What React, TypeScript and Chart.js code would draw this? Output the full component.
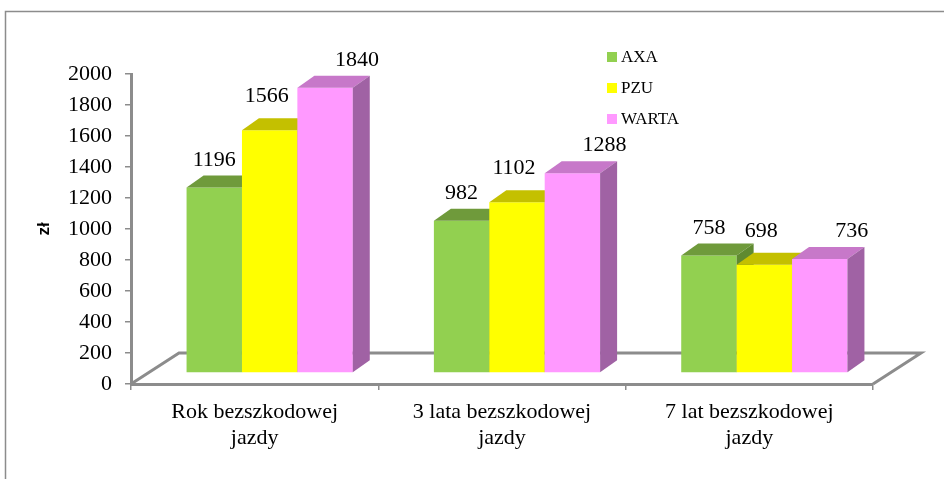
import React, { useEffect, useRef } from 'react';
import { Chart, registerables } from 'chart.js';

Chart.register(...registerables);

// ---- data ----
const categories: string[][] = [
  ['Rok bezszkodowej', 'jazdy'],
  ['3 lata bezszkodowej', 'jazdy'],
  ['7 lat bezszkodowej', 'jazdy'],
];
const seriesNames = ['AXA', 'PZU', 'WARTA'];
const axaValues = [1196, 982, 758];
const pzuValues = [1566, 1102, 698];
const wartaValues = [1840, 1288, 736];
const yMin = 0;
const yMax = 2000;
const yStep = 200;
const yAxisTitle = 'zł';

// ---- styles ----
const frontColors = ['#92D050', '#FFFF00', '#FF99FF'];
const topColors = ['#6F9A3B', '#C4C000', '#C778C9'];
const sideColors = ['#5F8A30', '#A8A400', '#A062A4'];
const labelDx = [0, -3, 32];
const labelRise = [22, 28, 22];

const SERIF = '"Liberation Serif", "Times New Roman", serif';
const SANS = '"Liberation Sans", Arial, sans-serif';
const AXIS_GREY = '#8c8c8c';

const SHIFT_X = 15;
const SHIFT_Y = -11;
const DEPTH_X = 17;
const DEPTH_Y = -12;
const FLOOR_X = 48;
const FLOOR_Y = -31;

const bar3dPlugin = {
  id: 'bar3d',
  beforeDraw(chart: any) {
    const { ctx, chartArea: a } = chart;
    ctx.save();
    // outer frame
    ctx.strokeStyle = AXIS_GREY;
    ctx.lineWidth = 1.5;
    ctx.beginPath();
    ctx.moveTo(5.5, chart.height + 10);
    ctx.lineTo(5.5, 11.5);
    ctx.lineTo(chart.width + 10, 11.5);
    ctx.stroke();
    // 3D floor
    ctx.lineWidth = 3;
    ctx.beginPath();
    ctx.moveTo(a.left, a.bottom);
    ctx.lineTo(a.left + FLOOR_X, a.bottom + FLOOR_Y);
    ctx.lineTo(a.right + FLOOR_X, a.bottom + FLOOR_Y);
    ctx.lineTo(a.right, a.bottom);
    ctx.stroke();
    ctx.restore();
  },
  // the library draws datasets last-to-first; we redraw them first-to-last below
  beforeDatasetDraw() {
    return false;
  },
  afterDatasetsDraw(chart: any) {
    const ctx = chart.ctx;
    const n = chart.data.datasets.length;
    for (let i = 0; i < n; i++) {
      const meta = chart.getDatasetMeta(i);
      ctx.save();
      ctx.translate(SHIFT_X, SHIFT_Y);
      meta.data.forEach((bar: any) => {
        bar.draw(ctx);
        const { x, y, base, width } = bar.getProps(['x', 'y', 'base', 'width'], true);
        const l = x - width / 2;
        const r = x + width / 2;
        ctx.fillStyle = topColors[i];
        ctx.beginPath();
        ctx.moveTo(l, y);
        ctx.lineTo(l + DEPTH_X, y + DEPTH_Y);
        ctx.lineTo(r + DEPTH_X, y + DEPTH_Y);
        ctx.lineTo(r, y);
        ctx.closePath();
        ctx.fill();
        ctx.fillStyle = sideColors[i];
        ctx.beginPath();
        ctx.moveTo(r, y);
        ctx.lineTo(r + DEPTH_X, y + DEPTH_Y);
        ctx.lineTo(r + DEPTH_X, base + DEPTH_Y);
        ctx.lineTo(r, base);
        ctx.closePath();
        ctx.fill();
      });
      ctx.restore();
    }
    // value labels
    ctx.save();
    ctx.fillStyle = '#000';
    ctx.font = `22px ${SERIF}`;
    ctx.textAlign = 'center';
    ctx.textBaseline = 'alphabetic';
    chart.data.datasets.forEach((ds: any, i: number) => {
      const meta = chart.getDatasetMeta(i);
      meta.data.forEach((bar: any, j: number) => {
        const { x, y } = bar.getProps(['x', 'y'], true);
        ctx.fillText(String(ds.data[j]), x + SHIFT_X + labelDx[i], y + SHIFT_Y - labelRise[i]);
      });
    });
    ctx.restore();
  },
  afterDraw(chart: any) {
    const ctx = chart.ctx;
    ctx.save();
    ctx.font = `17px ${SERIF}`;
    ctx.textAlign = 'left';
    ctx.textBaseline = 'middle';
    chart.data.datasets.forEach((ds: any, i: number) => {
      const cy = 57 + i * 31;
      ctx.fillStyle = ds.backgroundColor;
      ctx.fillRect(607, cy - 5, 10, 10);
      ctx.fillStyle = '#000';
      ctx.fillText(ds.label, 621, cy + 1);
    });
    ctx.restore();
  },
};

export default function App() {
  const canvasRef = useRef<HTMLCanvasElement | null>(null);

  useEffect(() => {
    const canvas = canvasRef.current;
    if (!canvas) return;
    const valueSets = [axaValues, pzuValues, wartaValues];
    const chart = new Chart(canvas, {
      type: 'bar',
      data: {
        labels: categories,
        datasets: valueSets.map((vals, i) => ({
          label: seriesNames[i],
          data: vals,
          backgroundColor: frontColors[i],
          borderWidth: 0,
          categoryPercentage: 0.672,
          barPercentage: 1,
          clip: false as any,
        })),
      },
      options: {
        responsive: false,
        animation: false,
        events: [],
        layout: { padding: { left: 0, top: 74, right: 71, bottom: 0 } },
        plugins: {
          legend: { display: false },
          tooltip: { enabled: false },
        },
        scales: {
          x: {
            afterFit: (s: any) => { s.height = 95; },
            grid: {
              offset: true,
              drawOnChartArea: false,
              drawTicks: true,
              tickLength: 6,
              color: AXIS_GREY,
              lineWidth: 1.5,
            },
            border: { display: true, color: AXIS_GREY, width: 3 },
            ticks: {
              color: '#000',
              font: { family: SERIF, size: 22, lineHeight: 1.2 },
              padding: 9,
              maxRotation: 0,
              autoSkip: false,
            },
          },
          y: {
            min: yMin,
            max: yMax,
            afterFit: (s: any) => { s.width = 131; },
            grid: {
              drawOnChartArea: false,
              drawTicks: true,
              tickLength: 6,
              color: AXIS_GREY,
              lineWidth: 1.5,
            },
            border: { display: true, color: AXIS_GREY, width: 3 },
            ticks: {
              stepSize: yStep,
              color: '#000',
              font: { family: SERIF, size: 22 },
              padding: 13,
              callback: (v: any) => String(v),
            },
            title: {
              display: true,
              text: yAxisTitle,
              color: '#000',
              font: { family: SANS, size: 17, weight: 'bold' },
              padding: { top: 34, bottom: 0 },
            },
          },
        },
      },
      plugins: [bar3dPlugin],
    });
    return () => chart.destroy();
  }, []);

  return (
    <canvas
      ref={canvasRef}
      width={944}
      height={479}
      style={{ position: 'fixed', left: 0, top: 0, display: 'block', width: 944, height: 479 }}
    />
  );
}
